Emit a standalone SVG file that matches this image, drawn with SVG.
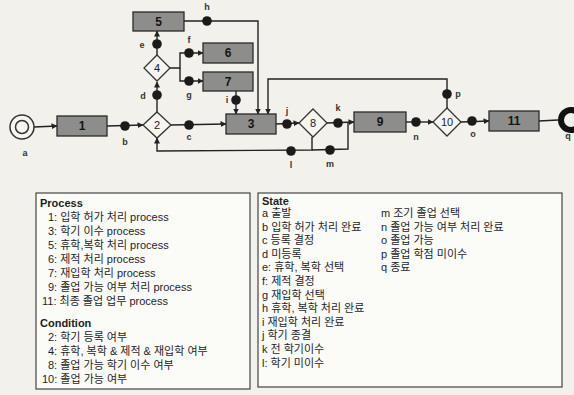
<svg xmlns="http://www.w3.org/2000/svg" width="574" height="395" viewBox="0 0 574 395">
<defs>
<marker id="arr" markerWidth="6" markerHeight="6" refX="5.5" refY="3" orient="auto" markerUnits="userSpaceOnUse">
<path d="M0,0 L6,3 L0,6 z" fill="#222"/>
</marker>
<style>
.bg{fill:#f2f1ec}
.ln{fill:none;stroke:#222;stroke-width:1.4}
.dot{fill:#1b1b1b}
.box{fill:#8d8e8c;stroke:#2a2a2a;stroke-width:1.3}
.dia{fill:#f6f5f1;stroke:#333;stroke-width:1.3}
.num{font-family:"Liberation Sans",Arial,sans-serif;font-size:12px;font-weight:bold;fill:#151515;text-anchor:middle}
.dnum{font-family:"Liberation Sans",Arial,sans-serif;font-size:11px;fill:#222;text-anchor:middle}
.lbl{font-family:"Liberation Sans",Arial,sans-serif;font-size:9px;font-weight:bold;fill:#333;text-anchor:middle}
.leg{fill:#fbfbf8;stroke:#444;stroke-width:1.2}
.lt{font-family:"Liberation Sans","Noto Sans CJK KR",sans-serif;font-size:11px;fill:#1e1e2a}
.lh{font-family:"Liberation Sans","Noto Sans CJK KR",sans-serif;font-size:11px;font-weight:bold;fill:#1e1e1e}
</style>
</defs>
<rect class="bg" x="0" y="0" width="574" height="395"/>

<g id="connectors">
<line class="ln" x1="34" y1="127" x2="57" y2="126" marker-end="url(#arr)"/>
<line class="ln" x1="107" y1="126" x2="143" y2="125" marker-end="url(#arr)"/>
<line class="ln" x1="171" y1="125" x2="226" y2="124" marker-end="url(#arr)"/>
<line class="ln" x1="157" y1="112" x2="157" y2="82" marker-end="url(#arr)"/>
<line class="ln" x1="157" y1="55" x2="157" y2="31" marker-end="url(#arr)"/>
<polyline class="ln" points="170,68 180,68 180,53 203,53" marker-end="url(#arr)"/>
<polyline class="ln" points="180,68 180,81 203,81" marker-end="url(#arr)"/>
<polyline class="ln" points="184,21 258,21 258,114" marker-end="url(#arr)"/>
<line class="ln" x1="236" y1="91" x2="236" y2="114" marker-end="url(#arr)"/>
<polyline class="ln" points="447,108 447,79 268,79 268,114" marker-end="url(#arr)"/>
<line class="ln" x1="276" y1="124" x2="299" y2="123" marker-end="url(#arr)"/>
<line class="ln" x1="327" y1="123" x2="354" y2="122" marker-end="url(#arr)"/>
<polyline class="ln" points="312,137 312,150 157,151 157,138" marker-end="url(#arr)"/>
<polyline class="ln" points="312,150 348,149 348,123"/>
<line class="ln" x1="406" y1="122" x2="433" y2="122" marker-end="url(#arr)"/>
<line class="ln" x1="461" y1="122" x2="489" y2="121" marker-end="url(#arr)"/>
<line class="ln" x1="539" y1="121" x2="558" y2="120"/>
<circle class="dot" cx="125" cy="126" r="4.8"/>
<circle class="dot" cx="189" cy="125" r="4.8"/>
<circle class="dot" cx="157" cy="95" r="4.8"/>
<circle class="dot" cx="157" cy="44" r="4.8"/>
<circle class="dot" cx="189" cy="53" r="4.8"/>
<circle class="dot" cx="189" cy="81" r="4.8"/>
<circle class="dot" cx="207" cy="21" r="4.8"/>
<circle class="dot" cx="236" cy="100" r="4.8"/>
<circle class="dot" cx="287" cy="124" r="4.8"/>
<circle class="dot" cx="338" cy="123" r="4.8"/>
<circle class="dot" cx="291" cy="151" r="4.8"/>
<circle class="dot" cx="330" cy="150" r="4.8"/>
<circle class="dot" cx="416" cy="122" r="4.8"/>
<circle class="dot" cx="472" cy="121" r="4.8"/>
<circle class="dot" cx="447" cy="94" r="4.8"/>
<text class="lbl" x="25" y="156">a</text>
<text class="lbl" x="125" y="145">b</text>
<text class="lbl" x="189" y="140">c</text>
<text class="lbl" x="143" y="99">d</text>
<text class="lbl" x="142" y="48">e</text>
<text class="lbl" x="189" y="43">f</text>
<text class="lbl" x="189" y="98">g</text>
<text class="lbl" x="207" y="10">h</text>
<text class="lbl" x="227" y="103">i</text>
<text class="lbl" x="287" y="114">j</text>
<text class="lbl" x="338" y="111">k</text>
<text class="lbl" x="291" y="168">l</text>
<text class="lbl" x="330" y="167">m</text>
<text class="lbl" x="416" y="140">n</text>
<text class="lbl" x="473" y="137">o</text>
<text class="lbl" x="458" y="97">p</text>
<text class="lbl" x="568" y="139">q</text>
</g>

<g id="start-a">
<circle cx="22" cy="127" r="12" fill="#f6f5f1" stroke="#333" stroke-width="1.5"/>
<circle cx="22" cy="127" r="6.5" fill="none" stroke="#333" stroke-width="1.5"/>
</g>
<g id="end-q">
<circle cx="571" cy="120" r="10" fill="none" stroke="#111" stroke-width="6"/>
</g>

<g id="p1"><rect class="box" x="57" y="116" width="50" height="20"/><text class="num" x="82" y="130">1</text></g>
<g id="p3"><rect class="box" x="226" y="114" width="50" height="20" fill="#7f8486"/><text class="num" x="251" y="128">3</text></g>
<g id="p5"><rect class="box" x="133" y="12" width="51" height="19"/><text class="num" x="158.5" y="26">5</text></g>
<g id="p6"><rect class="box" x="203" y="43" width="50" height="20"/><text class="num" x="228" y="57">6</text></g>
<g id="p7"><rect class="box" x="203" y="72" width="50" height="19"/><text class="num" x="228" y="86">7</text></g>
<g id="p9"><rect class="box" x="354" y="112" width="52" height="20" fill="#928c8e"/><text class="num" x="380" y="126">9</text></g>
<g id="p11"><rect class="box" x="489" y="111" width="50" height="20"/><text class="num" x="514" y="125">11</text></g>

<g id="c2"><polygon class="dia" points="157,112 171,125 157,138 143,125"/><text class="dnum" x="157" y="129">2</text></g>
<g id="c4"><polygon class="dia" points="157,55 170,68 157,81 144,68"/><text class="dnum" x="157" y="72">4</text></g>
<g id="c8"><polygon class="dia" points="313,109 327,123 313,137 299,123"/><text class="dnum" x="313" y="127">8</text></g>
<g id="c10"><polygon class="dia" points="447,108 461,122 447,136 433,122"/><text class="dnum" x="447" y="126">10</text></g>

<g id="legend-process">
<rect class="leg" x="36" y="193" width="214" height="196"/>
<text class="lh" x="40" y="207">Process</text>
<text class="lt" x="48" y="221">1: 입학 허가 처리 process</text>
<text class="lt" x="48" y="235">3: 학기 이수 process</text>
<text class="lt" x="48" y="249">5: 휴학,복학 처리 process</text>
<text class="lt" x="48" y="263">6: 제적 처리 process</text>
<text class="lt" x="48" y="277">7: 재입학 처리 process</text>
<text class="lt" x="48" y="291">9: 졸업 가능 여부 처리 process</text>
<text class="lt" x="42" y="305">11: 최종 졸업 업무 process</text>
<text class="lh" x="40" y="327">Condition</text>
<text class="lt" x="48" y="341">2: 학기 등록 여부</text>
<text class="lt" x="48" y="355">4: 휴학, 복학 &amp; 제적 &amp; 재입학 여부</text>
<text class="lt" x="48" y="369">8: 졸업 가능 학기 이수 여부</text>
<text class="lt" x="42" y="383">10: 졸업 가능 여부</text>
</g>

<g id="legend-state">
<rect class="leg" x="258" y="193" width="304" height="194"/>
<text class="lh" x="262" y="205">State</text>
<text class="lt" x="262" y="217">a  출발</text>
<text class="lt" x="262" y="231">b  입학 허가 처리 완료</text>
<text class="lt" x="262" y="244">c  등록 결정</text>
<text class="lt" x="262" y="258">d  미등록</text>
<text class="lt" x="262" y="271">e: 휴학, 복학 선택</text>
<text class="lt" x="262" y="285">f: 제적 결정</text>
<text class="lt" x="262" y="299">g  재입학 선택</text>
<text class="lt" x="262" y="312">h  휴학, 복학 처리 완료</text>
<text class="lt" x="262" y="326">i  재입학 처리 완료</text>
<text class="lt" x="262" y="339">j  학기 종결</text>
<text class="lt" x="262" y="353">k  전 학기이수</text>
<text class="lt" x="262" y="367">l:  학기 미이수</text>
<text class="lt" x="381" y="217">m  조기 졸업 선택</text>
<text class="lt" x="381" y="231">n  졸업 가능 여부 처리 완료</text>
<text class="lt" x="381" y="244">o  졸업 가능</text>
<text class="lt" x="381" y="258">p  졸업 학점 미이수</text>
<text class="lt" x="381" y="271">q  종료</text>
</g>
</svg>
